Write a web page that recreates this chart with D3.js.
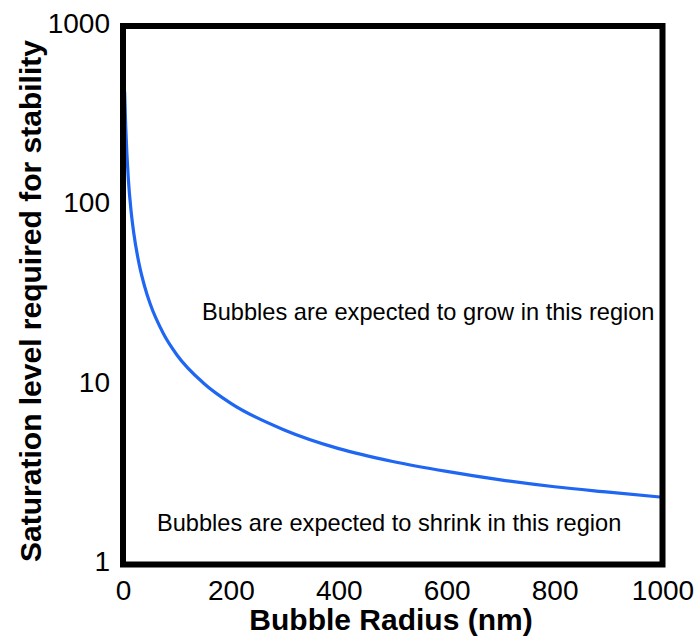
<!DOCTYPE html>
<html>
<head>
<meta charset="utf-8">
<script src="https://cdn.jsdelivr.net/npm/d3@7"></script>
<style>
  html, body { margin: 0; padding: 0; background: #fff; }
  svg { display: block; }
  text { font-family: "Liberation Sans", Arial, sans-serif; fill: #000; }
</style>
</head>
<body>
<svg id="chart" width="697" height="639"></svg>
<script>
// Bubble radius (nm) and the saturation level needed for the bubble to be stable
const radius = [3, 5, 10, 15, 20, 30, 40, 50, 75, 100, 150, 200, 300, 400, 500, 600, 700, 800, 900, 1000];
const saturation = [430, 276, 139, 93, 70, 47, 35.5, 28.5, 19.3, 14.7, 10.2, 7.9, 5.6, 4.42, 3.75, 3.3, 2.96, 2.71, 2.53, 2.37];

const xTicks = [0, 200, 400, 600, 800, 1000];
const yTicks = [1, 10, 100, 1000];

const xTitle = "Bubble Radius (nm)";
const yTitle = "Saturation level required for stability";
const growLabel = "Bubbles are expected to grow in this region";
const shrinkLabel = "Bubbles are expected to shrink in this region";

const svg = d3.select("#chart");
const plot = { left: 123, right: 662.5, top: 26, bottom: 564.5 };

const x = d3.scaleLinear().domain([0, 1000]).range([plot.left, plot.right]);
const y = d3.scaleLog().domain([1, 1000]).range([plot.bottom, plot.top]);

// Stability curve
const points = radius.map((r, i) => [r, saturation[i]]);
svg.append("path")
  .datum(points)
  .attr("fill", "none")
  .attr("stroke", "#1f66f2")
  .attr("stroke-width", 3.2)
  .attr("d", d3.line().x(d => x(d[0])).y(d => y(d[1])).curve(d3.curveMonotoneX));

// Frame around the plotting area
svg.append("rect")
  .attr("x", plot.left).attr("y", plot.top)
  .attr("width", plot.right - plot.left).attr("height", plot.bottom - plot.top)
  .attr("fill", "none").attr("stroke", "#000").attr("stroke-width", 6);

// Axes: labels only, no tick marks or domain line
const xAxis = svg.append("g")
  .attr("transform", `translate(0,${plot.bottom})`)
  .call(d3.axisBottom(x).tickValues(xTicks).tickSize(0).tickPadding(0).tickFormat(d3.format("d")));
xAxis.select(".domain").remove();
xAxis.selectAll("text")
  .attr("dy", null).attr("y", 35)
  .style("font-size", "28px").style("font-family", "'Liberation Sans', Arial, sans-serif");

const yAxis = svg.append("g")
  .attr("transform", `translate(${plot.left},0)`)
  .call(d3.axisLeft(y).tickValues(yTicks).tickSize(0).tickPadding(0).tickFormat(d3.format("d")));
yAxis.select(".domain").remove();
yAxis.selectAll("text")
  .attr("x", -13).attr("dy", "0.22em")
  .style("font-size", "28px").style("font-family", "'Liberation Sans', Arial, sans-serif");

// Axis titles
svg.append("text")
  .attr("x", 391).attr("y", 630)
  .attr("text-anchor", "middle")
  .style("font-size", "30px").style("font-weight", "bold")
  .text(xTitle);

svg.append("text")
  .attr("transform", `translate(41,301) rotate(-90)`)
  .attr("text-anchor", "middle")
  .style("font-size", "30px").style("font-weight", "bold")
  .text(yTitle);

// Region annotations
svg.append("text")
  .attr("x", 202).attr("y", 320)
  .style("font-size", "23.6px")
  .text(growLabel);

svg.append("text")
  .attr("x", 157).attr("y", 531)
  .style("font-size", "23.6px")
  .text(shrinkLabel);
</script>
</body>
</html>
